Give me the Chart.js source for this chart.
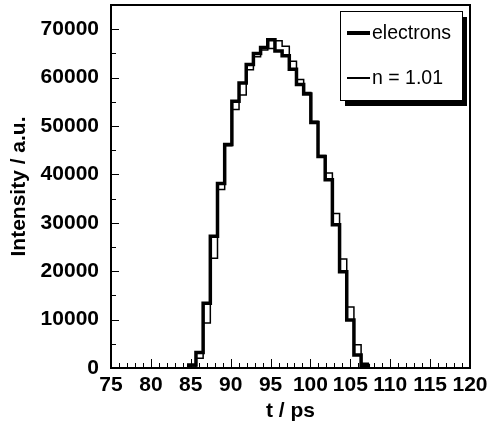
<!DOCTYPE html>
<html>
<head>
<meta charset="utf-8">
<script src="https://cdn.jsdelivr.net/npm/chart.js@4.4.1/dist/chart.umd.min.js"></script>
<style>
  body { margin: 0; background: #fff; }
</style>
</head>
<body>
<canvas id="myChart" width="489" height="432"></canvas>
<script>
// ビンの左端 (ps) — 最後の値は最終ビンの右端
var binEdges = [84.75, 85.65, 86.55, 87.45, 88.35, 89.25, 90.15, 91.05, 91.95, 92.85,
                93.75, 94.65, 95.55, 96.45, 97.35, 98.25, 99.15, 100.05, 100.95, 101.85,
                102.75, 103.65, 104.55, 105.45, 106.35, 107.25];
// 各ビンの強度
var electrons = [600, 3200, 13400, 27200, 38100, 46200, 55100, 58900, 62700, 65000,
                 66200, 67800, 65500, 64500, 61700, 58600, 56600, 50700, 43700, 38900,
                 29600, 19900, 9900, 2700, 500];
var n101 = [200, 2000, 9300, 22700, 36900, 45900, 53400, 56400, 61600, 64300,
            65700, 66000, 67600, 66500, 63400, 59600, 56900, 51000, 43900, 40300,
            31900, 22500, 12600, 4800, 1000];
var seriesNames = ['electrons', 'n = 1.01'];
// 目盛りラベル
var xTicks = [75, 80, 85, 90, 95, 100, 105, 110, 115, 120];
var yTicks = [0, 10000, 20000, 30000, 40000, 50000, 60000, 70000];

// ヒストグラム用の点列
function toSteps(vals) {
  var pts = [{ x: binEdges[0], y: 0 }];
  for (var i = 0; i < vals.length; i++) {
    pts.push({ x: binEdges[i], y: vals[i] });
  }
  pts.push({ x: binEdges[vals.length], y: 0 });
  return pts;
}

var FONT = '"Liberation Sans", Arial, Helvetica, sans-serif';

// 枠・内向き目盛り・凡例
var framePlugin = {
  id: 'frame',
  afterDraw: function(chart) {
    var ctx = chart.ctx;
    var a = chart.chartArea;
    var xs = chart.scales.x, ys = chart.scales.y;
    ctx.save();
    ctx.strokeStyle = '#000';
    ctx.lineWidth = 1;
    ctx.beginPath();
    for (var t = 75; t <= 120; t++) {
      var px = Math.round(xs.getPixelForValue(t)) + 0.5;
      var len = (t % 5 === 0) ? 9 : 5;
      ctx.moveTo(px, a.bottom);
      ctx.lineTo(px, a.bottom - len);
    }
    for (var v = 0; v <= 75000; v += 5000) {
      var py = Math.round(ys.getPixelForValue(v)) + 0.5;
      var l2 = (v % 10000 === 0) ? 8 : 5;
      ctx.moveTo(a.left, py);
      ctx.lineTo(a.left + l2, py);
    }
    ctx.stroke();

    ctx.lineWidth = 2;
    ctx.strokeRect(a.left, a.top, a.right - a.left, a.bottom - a.top);

    // 凡例（影付き）
    var bx = 340, by = 11, bw = 122, bh = 89;
    ctx.fillStyle = '#000';
    ctx.fillRect(bx + 5, by + 6, bw, bh);
    ctx.fillStyle = '#fff';
    ctx.fillRect(bx, by, bw, bh);
    ctx.lineWidth = 1;
    ctx.strokeRect(bx + 0.5, by + 0.5, bw, bh);

    var rows = [33, 78];
    var widths = [4, 2];
    ctx.font = '19.5px ' + FONT;
    ctx.textBaseline = 'middle';
    for (var i = 0; i < 2; i++) {
      ctx.lineWidth = widths[i];
      ctx.beginPath();
      ctx.moveTo(347, rows[i]);
      ctx.lineTo(370, rows[i]);
      ctx.stroke();
      ctx.fillStyle = '#000';
      ctx.fillText(seriesNames[i], 372, rows[i] + 1);
    }
    ctx.restore();
  }
};

var ctx = document.getElementById('myChart').getContext('2d');
var chart = new Chart(ctx, {
  type: 'line',
  data: {
    datasets: [{
      label: seriesNames[0],
      data: toSteps(electrons),
      borderColor: '#000',
      borderWidth: 3.5,
      stepped: true,
      pointRadius: 0,
      fill: false
    }, {
      label: seriesNames[1],
      data: toSteps(n101),
      borderColor: '#000',
      borderWidth: 1.5,
      stepped: true,
      pointRadius: 0,
      fill: false
    }]
  },
  options: {
    responsive: false,
    animation: false,
    layout: { padding: { top: 5, right: 19, left: 0, bottom: 0 } },
    plugins: { legend: { display: false }, tooltip: { enabled: false } },
    scales: {
      x: {
        type: 'linear',
        min: 75,
        max: 120,
        grid: { display: false },
        border: { display: false },
        ticks: {
          color: '#000',
          padding: -3,
          maxRotation: 0,
          autoSkip: false,
          font: { family: FONT, size: 21, weight: 'bold' },
          callback: function(v) { return String(v); }
        },
        afterBuildTicks: function(s) {
          s.ticks = xTicks.map(function(v) { return { value: v }; });
        },
        title: {
          display: true,
          text: 't / ps',
          color: '#000',
          padding: { top: 0, bottom: 8 },
          font: { family: FONT, size: 21, weight: 'bold' }
        },
        afterFit: function(s) {
          s.height = 64;
          s.paddingLeft = 0;
          s.paddingRight = 0;
        }
      },
      y: {
        min: 0,
        max: 75000,
        grid: { display: false },
        border: { display: false },
        ticks: {
          color: '#000',
          padding: 4,
          autoSkip: false,
          font: { family: FONT, size: 21, weight: 'bold' },
          callback: function(v) { return String(v); }
        },
        afterBuildTicks: function(s) {
          s.ticks = yTicks.map(function(v) { return { value: v }; });
        },
        title: {
          display: true,
          text: 'Intensity / a.u.',
          color: '#000',
          padding: { top: 7, bottom: 0 },
          font: { family: FONT, size: 21, weight: 'bold' }
        },
        afterFit: function(s) {
          s.width = 111;
          s.paddingTop = 0;
          s.paddingBottom = 0;
        }
      }
    }
  },
  plugins: [framePlugin]
});
</script>
</body>
</html>
